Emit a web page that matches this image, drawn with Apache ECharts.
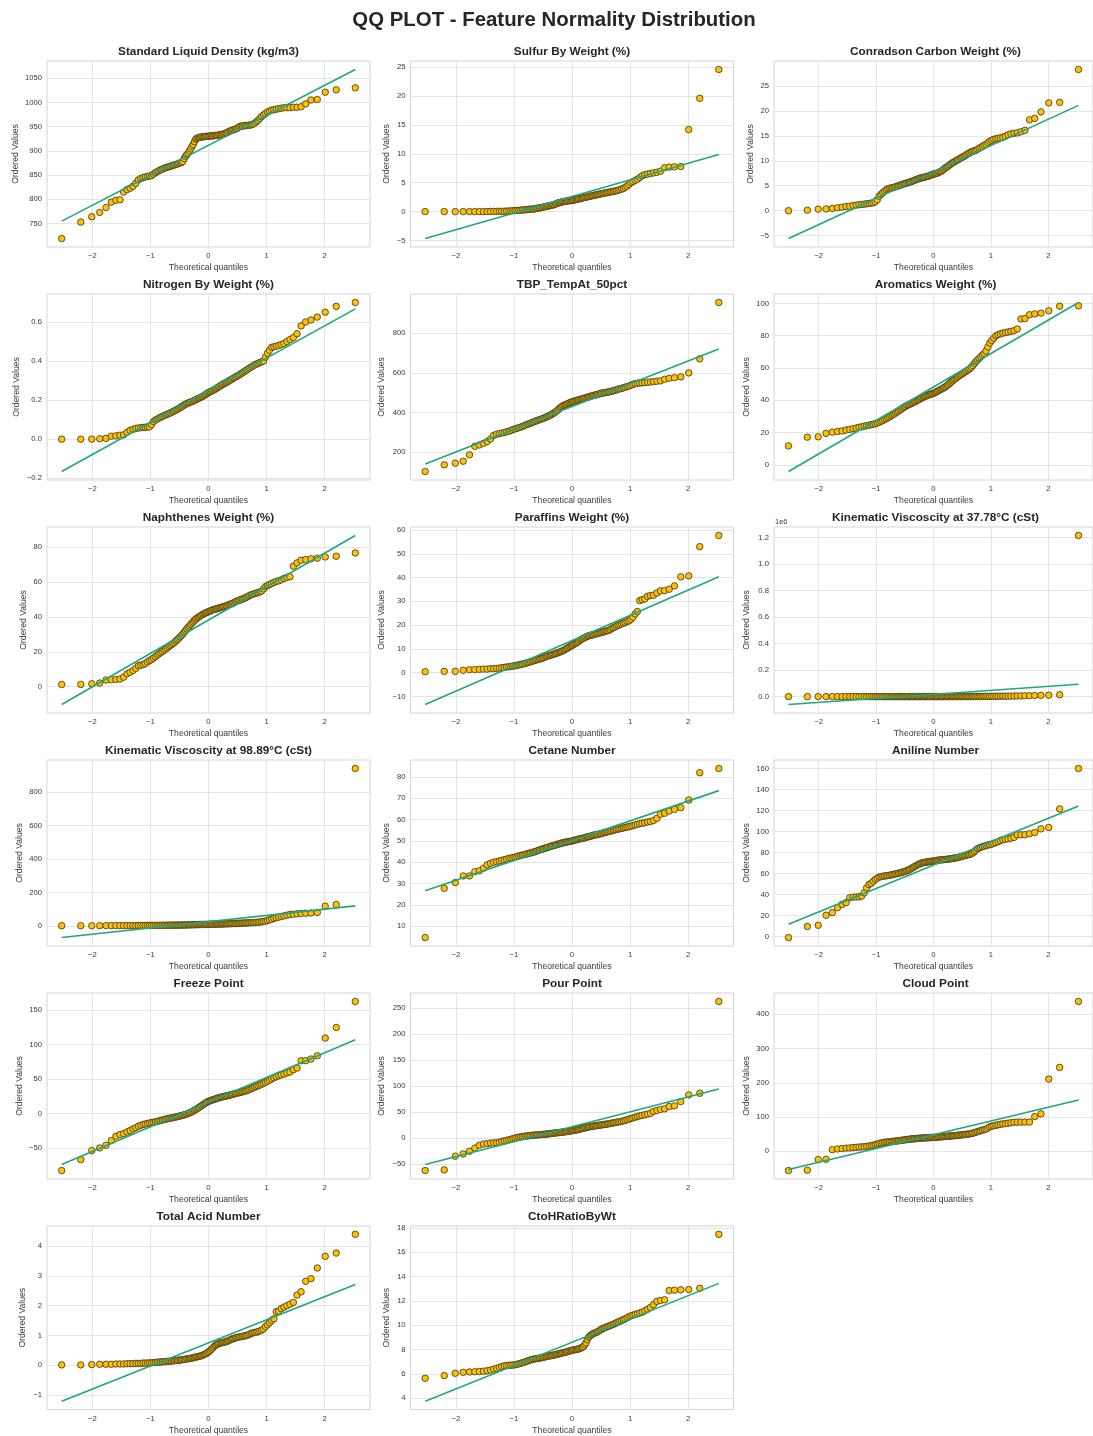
<!DOCTYPE html>
<html><head><meta charset="utf-8">
<script src="https://cdn.jsdelivr.net/npm/echarts@6/dist/echarts.min.js"></script>
<style>html,body{margin:0;padding:0;background:#fff}#c{width:1093px;height:1436px}</style>
</head><body><div id="c"></div>
<script>
// ---------------- DATA ----------------
const mainTitle = 'QQ PLOT - Feature Normality Distribution';
const titles = [
  'Standard Liquid Density (kg/m3)', 'Sulfur By Weight (%)', 'Conradson Carbon Weight (%)',
  'Nitrogen By Weight (%)', 'TBP_TempAt_50pct', 'Aromatics Weight (%)',
  'Naphthenes Weight (%)', 'Paraffins Weight (%)', 'Kinematic Viscoscity at 37.78°C (cSt)',
  'Kinematic Viscoscity at 98.89°C (cSt)', 'Cetane Number', 'Aniline Number',
  'Freeze Point', 'Pour Point', 'Cloud Point',
  'Total Acid Number', 'CtoHRatioByWt'
];
const xTicks = [-2, -1, 0, 1, 2];

const standardLiquidDensity = [
719,753,764,773,783,794,798,799,815,820,
823,827,833,840,843,845,846,847,848,849,
852,855,857,859,861,862,864,865,866,867,
868,869,870,871,872,873,874,875,876,878,
884,889,892,895,900,904,909,913,919,924,
926,927,928,928,929,929,929,930,930,930,
930,931,931,931,931,932,932,932,933,933,
934,934,935,936,937,938,940,941,942,943,
944,945,946,948,950,951,951,952,952,952,
953,953,954,955,957,960,963,967,971,974,
977,980,982,984,985,986,987,988,989,989,
989,990,990,991,997,1005,1006,1021,1026,1030];
const sulfurByWeight = [
0,0,0,0,0,0,0,0,0.01,0.02,
0.03,0.04,0.05,0.06,0.07,0.08,0.1,0.12,0.15,0.18,
0.2,0.22,0.25,0.28,0.3,0.33,0.36,0.4,0.42,0.44,
0.45,0.5,0.55,0.6,0.65,0.7,0.75,0.8,0.85,0.9,
0.95,1.0,1.05,1.1,1.15,1.2,1.3,1.4,1.5,1.55,
1.6,1.65,1.7,1.75,1.8,1.82,1.85,1.88,1.9,1.92,
1.95,2.0,2.05,2.1,2.15,2.2,2.25,2.3,2.35,2.4,
2.45,2.5,2.55,2.6,2.65,2.7,2.75,2.8,2.85,2.9,
2.95,3.0,3.05,3.1,3.15,3.2,3.25,3.3,3.35,3.4,
3.45,3.5,3.55,3.6,3.7,3.8,3.9,4.0,4.2,4.4,
4.7,5.0,5.2,5.4,5.6,5.9,6.2,6.4,6.5,6.6,
6.7,6.8,7.0,7.6,7.7,7.75,7.8,14.2,19.6,24.6];
const conradsonCarbon = [
0,0.1,0.3,0.35,0.45,0.6,0.7,0.85,0.9,1.05,
1.1,1.2,1.25,1.3,1.4,1.45,1.5,1.6,1.8,2.2,
2.9,3.3,3.6,3.9,4.2,4.4,4.5,4.55,4.6,4.7,
4.8,4.9,5.0,5.1,5.2,5.3,5.4,5.45,5.55,5.65,
5.7,5.8,5.9,6.0,6.1,6.2,6.3,6.4,6.5,6.55,
6.6,6.65,6.7,6.8,6.85,6.9,7.0,7.1,7.2,7.3,
7.35,7.4,7.5,7.55,7.7,7.8,7.9,8.1,8.3,8.5,
8.7,8.8,9.0,9.2,9.4,9.6,9.7,9.9,10.0,10.2,
10.3,10.5,10.6,10.8,10.9,11.1,11.3,11.5,11.6,11.8,
11.9,12.0,12.1,12.3,12.5,12.7,12.9,13.1,13.3,13.6,
13.9,14.1,14.3,14.4,14.5,14.6,14.7,14.9,15.2,15.4,
15.5,15.6,15.8,16.1,18.2,18.5,19.8,21.6,21.7,28.3];
const nitrogenByWeight = [
0,0,0,0.002,0.004,0.015,0.017,0.02,0.022,0.035,
0.045,0.05,0.055,0.057,0.059,0.06,0.061,0.062,0.063,0.075,
0.09,0.098,0.102,0.108,0.112,0.116,0.12,0.124,0.127,0.13,
0.134,0.138,0.141,0.145,0.149,0.153,0.157,0.161,0.166,0.17,
0.175,0.179,0.182,0.185,0.188,0.19,0.192,0.195,0.198,0.202,
0.205,0.208,0.211,0.214,0.217,0.22,0.224,0.228,0.232,0.237,
0.24,0.243,0.246,0.249,0.252,0.256,0.26,0.264,0.268,0.272,
0.276,0.28,0.284,0.287,0.29,0.294,0.298,0.302,0.306,0.31,
0.314,0.318,0.322,0.326,0.33,0.335,0.34,0.345,0.35,0.354,
0.36,0.365,0.37,0.375,0.38,0.384,0.388,0.392,0.396,0.40,
0.42,0.44,0.455,0.47,0.473,0.476,0.48,0.485,0.49,0.5,
0.51,0.52,0.54,0.58,0.6,0.61,0.625,0.65,0.68,0.70];
const tbpTempAt50pct = [
103,137,145,155,187,230,237,245,254,267,
285,291,294,297,300,303,306,310,315,318,
321,324,327,330,334,338,341,344,347,350,
353,356,359,362,364,367,369,372,375,378,
381,384,387,391,395,399,403,408,413,420,
426,430,434,437,440,442,445,448,451,453,
455,457,459,461,462,464,466,468,470,471,
473,475,477,479,481,483,485,487,488,490,
492,494,496,498,499,500,502,503,504,506,
508,510,512,515,518,520,522,525,528,531,
534,538,542,546,548,549,550,551,553,554,
556,558,560,568,573,576,580,600,671,955];
const aromaticsWeight = [
11.8,17.2,17.4,19.5,20.3,20.7,21.0,21.6,22.0,22.4,
22.8,23.3,23.6,24.0,24.3,24.6,24.9,25.2,25.5,26.0,
26.4,27.0,27.5,28.1,28.6,29.2,29.8,30.4,31.0,31.5,
32.2,32.8,33.4,34.0,34.6,35.2,35.8,36.3,36.8,37.2,
37.5,37.9,38.3,38.7,39.1,39.5,39.9,40.3,40.8,41.2,
41.6,42.0,42.3,42.6,42.9,43.2,43.5,43.8,44.0,44.2,
44.5,44.9,45.3,45.7,46.1,46.5,46.9,47.3,47.7,48.2,
48.7,49.3,49.9,50.6,51.3,52.0,52.6,53.2,53.8,54.4,
55.0,55.6,56.1,56.6,57.2,57.8,58.4,59.0,59.6,60.5,
61.5,62.8,64.0,65.0,66.0,67.0,68.0,69.0,70.5,73.0,
75.5,77.0,78.5,80.0,80.6,81.2,81.6,82.0,82.3,82.7,
83.1,84.2,90.4,90.6,93.0,93.5,94.0,95.5,98.3,98.5];
const naphthenesWeight = [
1.3,1.3,1.7,2.1,3.8,4.0,4.2,4.4,5.5,7.4,
8.3,9.3,10.5,12.0,12.3,12.7,13.3,14.2,15.0,15.6,
16.4,17.2,18.0,18.8,19.5,20.2,20.8,21.5,22.2,22.9,
23.6,24.2,24.8,25.5,26.3,27.0,27.8,28.6,29.4,30.2,
31.2,32.2,33.1,34.0,34.8,35.6,36.4,37.2,38.0,38.7,
39.2,39.7,40.2,40.7,41.1,41.5,41.9,42.2,42.5,42.8,
43.1,43.4,43.7,44.0,44.2,44.4,44.6,44.8,45.0,45.3,
45.5,45.7,45.9,46.1,46.3,46.6,46.9,47.2,47.5,47.8,
48.2,48.6,49.0,49.3,49.6,49.9,50.2,50.5,50.9,51.3,
51.8,52.3,52.7,53.0,53.3,53.6,53.9,54.3,54.8,56.0,
57.3,57.9,58.5,59.1,59.7,60.3,60.6,61.2,62.0,62.6,
63.0,69.0,70.9,72.4,72.8,73.2,73.6,74.3,74.7,76.6];
const paraffinsWeight = [
0.4,0.55,0.55,1.0,1.25,1.3,1.4,1.5,1.5,1.7,
1.7,1.8,1.9,2.1,2.2,2.4,2.5,2.6,2.8,2.9,
3.1,3.3,3.4,3.6,3.8,4.0,4.2,4.4,4.6,4.8,
5.0,5.2,5.4,5.6,5.7,5.9,6.1,6.3,6.6,6.9,
7.0,7.2,7.3,7.5,7.7,7.8,8.0,8.2,8.4,8.6,
8.8,9.0,9.2,9.5,9.8,10.1,10.4,10.7,11.0,11.3,
11.6,11.9,12.2,12.5,12.8,13.2,13.6,13.9,14.2,14.5,
14.8,15.0,15.3,15.5,15.6,15.8,15.9,16.0,16.2,16.3,
16.5,16.6,16.8,17.0,17.1,17.3,17.5,17.6,17.8,18.1,
18.6,18.9,19.2,19.6,19.9,20.2,20.5,20.8,21.1,21.5,
21.8,22.4,23.3,24.7,25.7,30.3,30.7,31.0,32.1,32.4,
32.6,33.5,34.4,34.5,35.1,36.5,40.3,40.7,53.0,57.7];
const kinematicViscosity3778 = [
1.2,1.5,1.8,2.1,2.4,2.6,2.9,3.1,3.4,3.7,
4.0,4.3,4.6,5.0,5.4,5.8,6.2,6.7,7.2,7.7,
8.3,8.9,9.5,10.2,11.0,11.8,12.6,13.5,14.5,15.5,
16.6,17.8,19.0,20.3,21.7,23.2,24.8,26.5,28.3,30.2,
32.2,34.4,36.7,39.2,41.8,44.6,47.6,50.8,54.2,57.8,
61.7,65.8,70.2,74.9,79.9,85.3,91.0,97.1,104,111,
118,126,135,144,154,164,175,187,200,213,
228,243,260,278,297,317,339,362,387,414,
443,474,507,543,581,622,666,714,765,820,
880,945,1015,1090,1170,1260,1360,1470,1590,1720,
1860,2010,2180,2360,2560,2780,3020,3280,3570,3900,
4300,4800,5400,6100,7000,8000,9500,11000,14000,1217000];
const kinematicViscosity9889 = [
0.5,0.8,1.0,1.2,1.4,1.5,1.6,1.7,1.8,1.9,
2.0,2.1,2.2,2.3,2.4,2.5,2.6,2.7,2.8,2.9,
3.0,3.1,3.2,3.3,3.4,3.5,3.6,3.7,3.8,3.9,
4.0,4.1,4.2,4.3,4.4,4.5,4.6,4.8,5.0,5.2,
5.4,5.6,5.8,6.0,6.2,6.4,6.6,6.8,7.0,7.2,
7.4,7.6,7.8,8.0,8.2,8.4,8.6,8.8,9.0,9.2,
9.4,9.6,9.8,10.0,10.2,10.4,10.6,10.8,11.0,11.2,
11.4,11.6,11.8,12.0,12.3,12.6,12.9,13.2,13.5,13.8,
14.1,14.4,14.7,15.0,15.4,15.8,16.2,16.6,17.0,17.5,
18.0,18.5,19.0,19.5,20.0,21.0,22.0,23.0,24.0,26.0,
28,32,36,40,45,48,52,56,60,64,
68,70,72,74,76,77,80,118,128,943];
const cetaneNumber = [
4.7,27.8,30.5,33.6,33.6,35.6,36.0,37.2,38.8,39.5,
40.0,40.3,40.6,40.9,41.2,41.5,41.8,42.0,42.2,42.4,
42.7,43.0,43.2,43.4,43.6,43.8,44.0,44.2,44.4,44.6,
44.8,45.0,45.3,45.5,45.8,46.0,46.2,46.4,46.6,46.8,
47.0,47.2,47.4,47.6,47.8,47.9,48.1,48.3,48.5,48.6,
48.8,49.0,49.1,49.3,49.4,49.5,49.6,49.7,49.8,49.9,
50.1,50.3,50.4,50.6,50.7,50.9,51.0,51.1,51.2,51.3,
51.5,51.7,51.9,52.0,52.1,52.3,52.5,52.7,52.8,52.9,
53.0,53.2,53.4,53.5,53.7,53.9,54.1,54.3,54.4,54.6,
54.8,55.0,55.2,55.4,55.6,55.7,55.9,56.1,56.3,56.5,
56.7,56.9,57.2,57.5,57.8,58.1,58.3,58.6,58.9,59.1,
59.6,60.6,62.5,63.0,64.0,64.8,65.6,69.2,82.0,84.0];
const anilineNumber = [
-1.0,9.5,10.7,20.2,22.7,27.4,30.6,32.2,36.9,37.5,
37.6,37.8,38.5,41.6,46.4,49.5,50.5,52.5,54.3,55.5,
56.5,57.0,57.4,57.6,57.8,58.0,58.3,58.6,58.9,59.2,
59.6,60.0,60.3,60.6,61.0,61.4,61.8,62.2,62.7,63.2,
63.8,64.5,65.2,65.9,66.6,67.3,68.0,68.6,69.1,69.6,
70.0,70.3,70.5,70.7,70.9,71.1,71.3,71.5,71.6,71.7,
71.9,72.1,72.3,72.5,72.7,72.9,73.0,73.1,73.2,73.3,
73.4,73.5,73.7,73.9,74.1,74.3,74.5,74.7,74.9,75.1,
75.4,75.8,76.2,76.5,76.9,77.2,77.6,77.9,78.3,78.8,
79.6,80.8,82.2,83.6,84.3,84.9,85.5,86.0,86.6,87.1,
87.4,88.0,88.7,89.4,90.2,91.3,92.1,92.6,93.0,93.6,
94.3,96.8,96.8,96.9,97.8,99.0,102.5,103.8,121.5,160.0];
const freezePoint = [
-82.6,-66.7,-53.6,-49.8,-45.9,-39.1,-32.9,-30.4,-29.0,-26.6,
-24.6,-22.2,-20.5,-18.4,-17.0,-15.8,-15.0,-14.3,-13.6,-13.0,
-12.5,-12.0,-11.3,-10.6,-10.0,-9.3,-8.6,-8.0,-7.5,-7.0,
-6.6,-6.2,-5.8,-5.3,-4.8,-4.3,-3.8,-3.3,-2.8,-2.3,
-1.8,-1.2,-0.5,0.2,1.0,1.8,2.8,3.8,4.8,5.8,
7.0,8.2,9.4,10.6,11.8,13.0,14.2,15.4,16.5,17.5,
18.2,18.8,19.4,20.0,20.6,21.2,21.8,22.4,23.0,23.6,
24.0,24.4,24.8,25.2,25.6,26.1,26.6,27.1,27.6,28.1,
28.6,29.1,29.6,30.1,30.6,31.1,31.6,32.2,32.8,33.4,
34.4,35.4,36.4,37.4,38.4,39.4,40.4,41.6,42.8,44.0,
45.4,47.0,48.6,50.4,52.0,53.5,55.0,56.2,57.4,59.0,
60.4,63.8,66.2,76.8,76.9,79.2,84.0,109.7,125.0,162.8];
const pourPoint = [
-62.6,-61.3,-35.0,-30.7,-25.5,-19.2,-14.0,-11.5,-10.9,-9.6,
-9.4,-9.0,-8.0,-6.4,-5.5,-4.5,-3.5,-2.5,-1.0,0.0,
0.8,1.6,2.2,2.8,3.3,3.7,4.1,4.5,4.9,5.2,
5.5,5.8,6.0,6.2,6.4,6.6,6.8,7.0,7.3,7.6,
7.9,8.2,8.5,8.8,9.1,9.4,9.7,10.0,10.3,10.6,
10.9,11.2,11.5,11.8,12.1,12.4,12.8,13.2,13.6,14.0,
14.4,14.8,15.2,15.6,16.0,16.6,17.2,17.8,18.4,19.0,
19.6,20.2,20.8,21.4,21.8,22.2,22.6,23.0,23.4,23.8,
24.2,24.6,25.0,25.4,25.8,26.2,26.6,27.0,27.5,28.0,
28.6,29.2,29.8,30.4,30.9,31.5,32.2,33.0,34.0,35.2,
36.4,37.6,38.8,40.2,41.4,42.6,43.6,44.8,46.0,47.3,
51.1,53.0,55.0,56.2,60.7,62.0,70.2,83.0,86.2,263.0];
const cloudPoint = [
-56,-55,-24,-23,5,7,8,9.5,10,11,
11.8,12.6,13.0,13.5,14.5,15.5,16.5,18.0,20.0,21.5,
23.0,24.5,25.5,26.5,27.0,27.5,28.0,28.5,29.0,29.5,
30.0,30.5,31.0,31.6,32.2,32.8,33.4,34.0,34.5,35.0,
35.5,36.0,36.3,36.6,37.0,37.3,37.6,38.0,38.3,38.6,
38.8,39.0,39.2,39.4,39.6,39.8,40.0,40.2,40.4,40.6,
40.8,41.0,41.3,41.6,41.9,42.2,42.5,42.8,43.1,43.5,
43.8,44.1,44.4,44.7,45.0,45.3,45.6,46.0,46.4,46.8,
47.2,47.6,48.0,48.5,49.0,49.5,50.0,50.6,51.2,52.0,
53.0,54.5,56.0,57.5,59.0,60.5,62.0,63.5,65.0,68.0,
72.0,73.5,74.5,76.0,77.5,79.0,80.0,81.0,82.3,83.5,
85.0,85.2,85.3,85.4,85.5,101.6,109.4,211,245,437.6];
const totalAcidNumber = [
0.01,0.01,0.02,0.03,0.03,0.03,0.04,0.04,0.04,0.05,
0.05,0.05,0.06,0.06,0.06,0.07,0.07,0.07,0.08,0.08,
0.09,0.09,0.10,0.10,0.11,0.11,0.12,0.12,0.13,0.13,
0.14,0.14,0.15,0.15,0.16,0.16,0.17,0.17,0.18,0.19,
0.19,0.20,0.21,0.22,0.22,0.23,0.24,0.25,0.26,0.27,
0.28,0.29,0.30,0.31,0.32,0.34,0.36,0.38,0.40,0.43,
0.46,0.50,0.54,0.58,0.62,0.66,0.69,0.71,0.73,0.75,
0.75,0.76,0.77,0.78,0.79,0.81,0.83,0.85,0.87,0.89,
0.90,0.92,0.93,0.94,0.95,0.96,0.97,0.98,0.99,1.00,
1.02,1.05,1.07,1.09,1.10,1.11,1.13,1.15,1.18,1.22,
1.30,1.36,1.43,1.50,1.56,1.80,1.82,1.90,1.95,2.00,
2.05,2.11,2.36,2.47,2.82,2.91,3.27,3.66,3.77,4.40];
const ctoHRatioByWt = [
5.63,5.85,6.04,6.12,6.15,6.17,6.19,6.21,6.25,6.3,
6.38,6.44,6.52,6.6,6.65,6.68,6.7,6.71,6.72,6.74,
6.78,6.82,6.86,6.9,6.95,7.0,7.05,7.1,7.14,7.18,
7.21,7.23,7.25,7.27,7.29,7.31,7.33,7.36,7.39,7.42,
7.44,7.46,7.48,7.5,7.52,7.54,7.57,7.6,7.62,7.65,
7.67,7.7,7.72,7.75,7.77,7.8,7.83,7.86,7.89,7.92,
7.94,7.96,7.98,8.0,8.02,8.05,8.08,8.12,8.18,8.25,
8.4,8.55,8.8,9.0,9.1,9.2,9.26,9.32,9.36,9.4,
9.45,9.52,9.6,9.67,9.73,9.78,9.83,9.88,9.92,9.97,
10.02,10.07,10.13,10.2,10.26,10.32,10.38,10.45,10.52,10.6,
10.7,10.76,10.82,10.88,10.94,11.0,11.06,11.18,11.3,11.45,
11.68,11.95,12.03,12.08,12.84,12.87,12.9,12.92,13.03,17.46];

// fitted reference line: value at the lowest and highest theoretical quantile
const lineStart = [755, -4.66, -5.58, -0.166, 141, -4.1, -10.2, -13.4, -60000, -70, 26.6, 11.7, -73.9, -51.1, -53.2, -1.21, 3.75];
const lineEnd   = [1068, 9.9, 21.1, 0.667, 721, 100.6, 86.6, 40.3, 93000, 120, 73.6, 124.3, 107.2, 94.5, 150, 2.71, 13.43];

const yTicks = [
  [750,800,850,900,950,1000,1050], [-5,0,5,10,15,20,25], [-5,0,5,10,15,20,25],
  [-0.2,0,0.2,0.4,0.6], [200,400,600,800], [0,20,40,60,80,100],
  [0,20,40,60,80], [-10,0,10,20,30,40,50,60], [0,200000,400000,600000,800000,1000000,1200000],
  [0,200,400,600,800], [10,20,30,40,50,60,70,80], [0,20,40,60,80,100,120,140,160],
  [-50,0,50,100,150], [-50,0,50,100,150,200,250], [0,100,200,300,400],
  [-1,0,1,2,3,4], [4,6,8,10,12,14,16,18]
];

const seriesValues = [standardLiquidDensity, sulfurByWeight, conradsonCarbon, nitrogenByWeight,
  tbpTempAt50pct, aromaticsWeight, naphthenesWeight, paraffinsWeight, kinematicViscosity3778,
  kinematicViscosity9889, cetaneNumber, anilineNumber, freezePoint, pourPoint, cloudPoint,
  totalAcidNumber, ctoHRatioByWt];

// ---------------- LAYOUT / STYLE ----------------
const colLeft = [47, 410.5, 774];
const rowTop = [61, 294, 527, 760, 993, 1226];
const gridW = 323, gridH = 186;
const yNameGap = [27,19,18.8, 25.8,24,22.5, 18.8,24,22.5, 23,19,22.5, 23,24,22.5, 19.9,19.2];
const labelScale = [1,1,1,1,1,1,1,1,1e6,1,1,1,1,1,1,1,1];
const labelDigits = [0,0,0,1,0,0,0,0,1,0,0,0,0,0,0,0,0];
const FONT = '"Liberation Sans", Arial, sans-serif';
const TXT = '#3a3a3a';

// Filliben order-statistic medians (as used by scipy.stats.probplot)
function invNorm(p){
  const a=[-3.969683028665376e+01,2.209460984245205e+02,-2.759285104469687e+02,1.383577518672690e+02,-3.066479806614716e+01,2.506628277459239e+00];
  const b=[-5.447609879822406e+01,1.615858368580409e+02,-1.556989798598866e+02,6.680131188771201e+01,-1.328068155288572e+01];
  const c=[-7.784894002430293e-03,-3.223964580411365e-01,-2.400758277161838e+00,-2.549671010243570e+00,4.374664141464968e+00,2.938163982698783e+00];
  const d=[7.784695709041462e-03,3.224671290700398e-01,2.445134137142996e+00,3.754408661907416e+00];
  const pl=0.02425, ph=1-pl; let q,r;
  if(p<pl){q=Math.sqrt(-2*Math.log(p));return (((((c[0]*q+c[1])*q+c[2])*q+c[3])*q+c[4])*q+c[5])/((((d[0]*q+d[1])*q+d[2])*q+d[3])*q+1);}
  if(p>ph){q=Math.sqrt(-2*Math.log(1-p));return -(((((c[0]*q+c[1])*q+c[2])*q+c[3])*q+c[4])*q+c[5])/((((d[0]*q+d[1])*q+d[2])*q+d[3])*q+1);}
  q=p-0.5;r=q*q;return (((((a[0]*r+a[1])*r+a[2])*r+a[3])*r+a[4])*r+a[5])*q/(((((b[0]*r+b[1])*r+b[2])*r+b[3])*r+b[4])*r+1);
}
function theoreticalQuantiles(n){
  const last = Math.pow(0.5, 1/n), out = [];
  for (let i=1;i<=n;i++){
    const m = i===1 ? 1-last : (i===n ? last : (i-0.3175)/(n+0.365));
    out.push(invNorm(m));
  }
  return out;
}
function fmt(v, k){
  let s = (v/labelScale[k]).toFixed(labelDigits[k]);
  if (parseFloat(s) === 0) s = s.replace('-', '');
  return s.replace('-', '\u2212');
}

const grids=[], xAxes=[], yAxes=[], series=[], graphics=[];
graphics.push({type:'text', x:554, y:20, z:100, style:{text:mainTitle, font:'bold 20.4px '+FONT, fill:'#262626', align:'center', verticalAlign:'middle', textAlign:'center', textVerticalAlign:'middle'}});

seriesValues.forEach((raw, k) => {
  const vals = raw.slice().sort((a,b)=>a-b);
  const n = vals.length;
  const q = theoreticalQuantiles(n);
  const col = k % 3, row = Math.floor(k / 3);
  const left = colLeft[col], top = rowTop[row];
  grids.push({left:left, top:top, width:gridW, height:gridH, show:true, borderColor:'#d4d4d4', borderWidth:1, backgroundColor:'transparent'});
  const xr = q[n-1]-q[0];
  xAxes.push({
    type:'value', gridIndex:k, min:q[0]-0.05*xr, max:q[n-1]+0.05*xr,
    axisLine:{show:false}, axisTick:{show:false, customValues:xTicks},
    axisLabel:{customValues:xTicks, fontSize:7.7, color:TXT, fontFamily:FONT, margin:5, formatter:v=>String(v).replace('-', '\u2212')},
    splitLine:{show:true, lineStyle:{color:'#e4e4e4', width:1}},
    name:'Theoretical quantiles', nameLocation:'middle', nameGap:16.5,
    nameTextStyle:{fontSize:8.6, color:TXT, fontFamily:FONT}
  });
  let lo = Math.min(vals[0], lineStart[k], lineEnd[k]);
  let hi = Math.max(vals[n-1], lineStart[k], lineEnd[k]);
  const pad = 0.05*(hi-lo);
  yAxes.push({
    type:'value', gridIndex:k, min:lo-pad, max:hi+pad,
    axisLine:{show:false}, axisTick:{show:false, customValues:yTicks[k]},
    axisLabel:{customValues:yTicks[k], fontSize:7.7, color:TXT, fontFamily:FONT, margin:5, formatter:v=>fmt(v,k)},
    splitLine:{show:true, lineStyle:{color:'#e4e4e4', width:1}},
    name:'Ordered Values', nameLocation:'middle', nameGap:yNameGap[k], nameRotate:90,
    nameTextStyle:{fontSize:8.6, color:TXT, fontFamily:FONT}
  });
  series.push({
    type:'scatter', xAxisIndex:k, yAxisIndex:k, symbol:'circle', symbolSize:6.5,
    data: vals.map((v,i)=>[q[i], v]),
    itemStyle:{color:'#FFC000', borderColor:'#3a3320', borderWidth:0.8, opacity:1},
    z:2, silent:true, animation:false
  });
  series.push({
    type:'line', xAxisIndex:k, yAxisIndex:k, showSymbol:false, symbol:'none',
    data:[[q[0], lineStart[k]], [q[n-1], lineEnd[k]]],
    lineStyle:{color:'#1fa77e', width:1.6}, z:3, silent:true, animation:false
  });
  graphics.push({type:'text', x:left+gridW/2, y:top-9, z:100, style:{text:titles[k], font:'bold 11.8px '+FONT, fill:'#262626', align:'center', verticalAlign:'middle', textAlign:'center', textVerticalAlign:'middle'}});
  if (labelScale[k] !== 1) {
    graphics.push({type:'text', x:left+1, y:top-5, z:100, style:{text:'1e6', font:'7.5px '+FONT, fill:TXT, align:'left', verticalAlign:'middle', textAlign:'left', textVerticalAlign:'middle'}});
  }
});

const chart = echarts.init(document.getElementById('c'), null, {renderer:'canvas'});
chart.setOption({
  backgroundColor:'#ffffff', animation:false,
  grid:grids, xAxis:xAxes, yAxis:yAxes, series:series, graphic:graphics
});
</script>
</body></html>
